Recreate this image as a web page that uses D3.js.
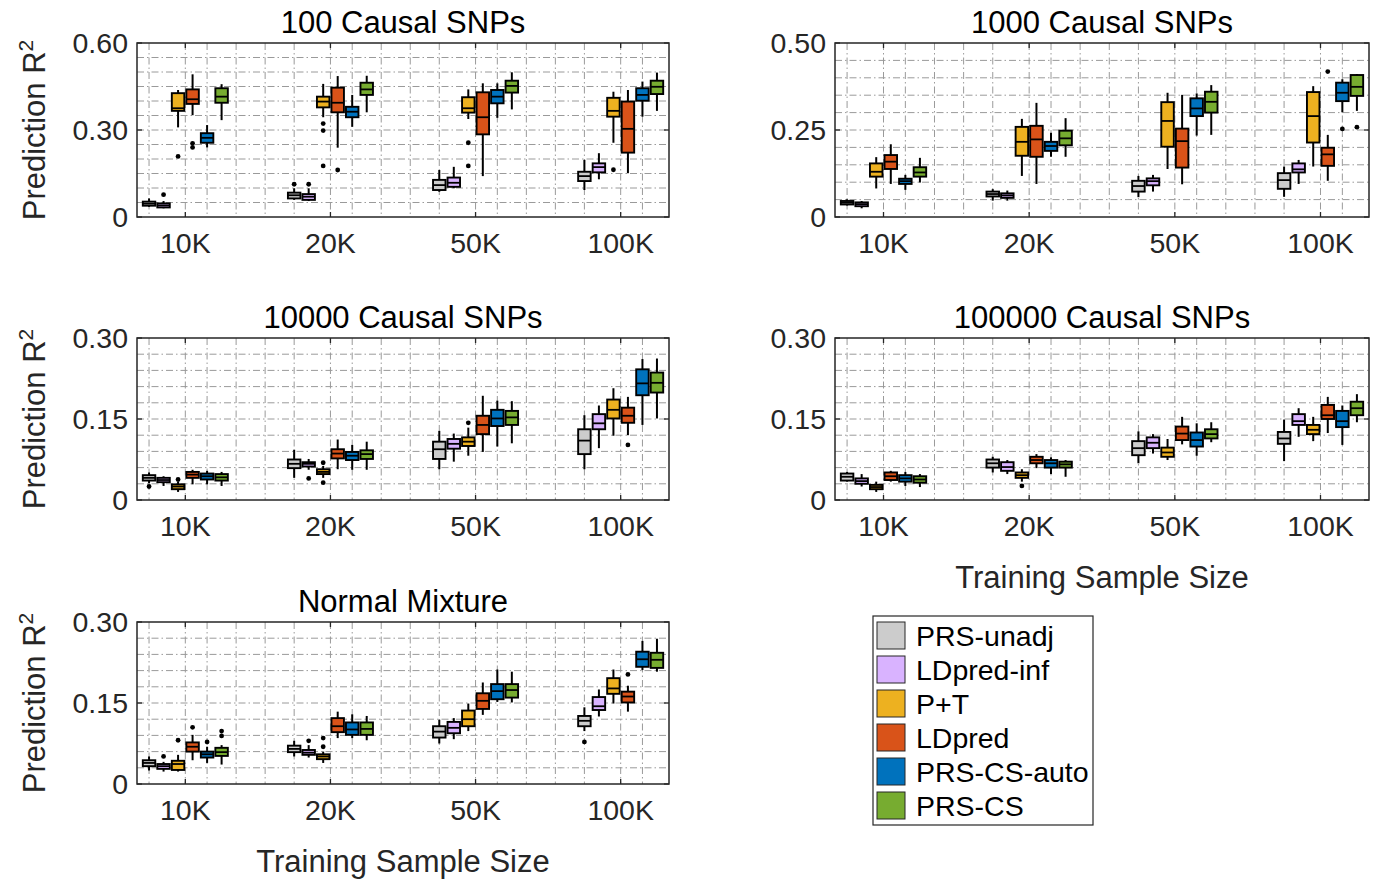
<!DOCTYPE html>
<html lang="en">
<head>
<meta charset="UTF-8">
<title>Prediction R2 boxplots</title>
<script src="https://cdnjs.cloudflare.com/ajax/libs/d3/7.8.5/d3.min.js"></script>
<style>
  body { margin: 0; background: #fff; }
  svg { display: block; font-family: "Liberation Sans", Arial, sans-serif; }
  .grid line { stroke: #9a9a9a; stroke-width: 1; stroke-dasharray: 7,3,1.5,3; }
  .frame { fill: none; stroke: #262626; stroke-width: 1.5; }
  .tick-label { fill: #262626; font-size: 28.5px; }
  .title { fill: #000; font-size: 31px; }
  .axis-label { fill: #262626; font-size: 31px; }
</style>
</head>
<body>
<div id="chart"></div>
<script>
const methods = ["PRS-unadj", "LDpred-inf", "P+T", "LDpred", "PRS-CS-auto", "PRS-CS"];
const colors = ["#cccccc", "#d9b3ff", "#edb120", "#d95319", "#0072bd", "#77ac30"];
const sizes = ["10K", "20K", "50K", "100K"];

// each box: [whisker low, q1, median, q3, whisker high], 10K..100K x methods
const causal100 = [
  [0.035,0.039,0.046,0.053,0.064],[0.030,0.033,0.040,0.047,0.055],[0.309,0.366,0.375,0.427,0.438],
  [0.351,0.390,0.406,0.440,0.492],[0.240,0.256,0.273,0.289,0.317],[0.334,0.394,0.415,0.444,0.458],
  [0.059,0.064,0.075,0.084,0.099],[0.055,0.059,0.070,0.079,0.099],[0.344,0.378,0.398,0.415,0.459],
  [0.239,0.361,0.394,0.446,0.486],[0.311,0.344,0.363,0.380,0.421],[0.361,0.421,0.440,0.463,0.487],
  [0.087,0.093,0.110,0.128,0.162],[0.099,0.104,0.118,0.136,0.173],[0.338,0.360,0.375,0.413,0.440],
  [0.141,0.285,0.344,0.430,0.461],[0.342,0.392,0.415,0.438,0.461],[0.371,0.429,0.452,0.470,0.499],
  [0.093,0.124,0.141,0.156,0.197],[0.130,0.154,0.172,0.185,0.220],[0.256,0.346,0.366,0.411,0.432],
  [0.151,0.222,0.304,0.398,0.438],[0.346,0.401,0.421,0.444,0.467],[0.366,0.424,0.449,0.470,0.498]
];
const causal100Out = [[0,1,0.077],[0,2,0.209],[0,3,0.254],[0,3,0.240],[1,0,0.113],[1,1,0.113],
  [1,2,0.322],[1,2,0.298],[1,2,0.176],[1,3,0.162],[2,2,0.256],[2,2,0.176],[3,2,0.163]];

const causal1000 = [
  [0.033,0.036,0.041,0.046,0.051],[0.025,0.031,0.037,0.042,0.046],[0.082,0.116,0.130,0.154,0.172],
  [0.095,0.138,0.159,0.178,0.209],[0.078,0.095,0.103,0.110,0.121],[0.099,0.116,0.128,0.143,0.170],
  [0.047,0.059,0.066,0.073,0.080],[0.047,0.055,0.062,0.068,0.076],[0.118,0.176,0.216,0.259,0.282],
  [0.095,0.173,0.223,0.262,0.328],[0.173,0.190,0.204,0.216,0.242],[0.173,0.206,0.226,0.248,0.284],
  [0.057,0.073,0.089,0.104,0.118],[0.073,0.091,0.103,0.111,0.121],[0.138,0.202,0.276,0.330,0.357],
  [0.094,0.142,0.218,0.254,0.351],[0.234,0.290,0.312,0.341,0.355],[0.236,0.300,0.331,0.360,0.379],
  [0.058,0.081,0.106,0.126,0.145],[0.095,0.128,0.137,0.154,0.164],[0.145,0.214,0.290,0.359,0.376],
  [0.104,0.147,0.180,0.199,0.236],[0.301,0.333,0.357,0.386,0.396],[0.305,0.348,0.374,0.408,0.411]
];
const causal1000Out = [[3,3,0.418],[3,4,0.253],[3,5,0.258]];

const causal10000 = [
  [0.031,0.036,0.041,0.046,0.051],[0.026,0.033,0.037,0.041,0.044],[0.015,0.020,0.025,0.029,0.034],
  [0.029,0.041,0.047,0.052,0.056],[0.029,0.038,0.044,0.049,0.054],[0.026,0.036,0.042,0.048,0.052],
  [0.041,0.059,0.067,0.075,0.093],[0.056,0.062,0.067,0.070,0.076],[0.041,0.048,0.052,0.057,0.063],
  [0.057,0.077,0.086,0.094,0.112],[0.056,0.074,0.082,0.089,0.102],[0.056,0.076,0.085,0.092,0.108],
  [0.057,0.076,0.094,0.108,0.128],[0.071,0.095,0.104,0.113,0.123],[0.082,0.100,0.108,0.116,0.134],
  [0.089,0.122,0.139,0.156,0.193],[0.099,0.137,0.151,0.167,0.184],[0.105,0.139,0.153,0.165,0.183],
  [0.057,0.085,0.110,0.131,0.157],[0.096,0.131,0.142,0.159,0.175],[0.119,0.151,0.167,0.186,0.207],
  [0.120,0.143,0.156,0.171,0.191],[0.139,0.194,0.216,0.242,0.261],[0.151,0.199,0.217,0.236,0.262]
];
const causal10000Out = [[0,0,0.025],[0,2,0.038],[1,1,0.040],[1,2,0.069],[1,2,0.032],[2,2,0.143],[3,3,0.102]];

const causal100000 = [
  [0.034,0.036,0.043,0.049,0.052],[0.025,0.030,0.035,0.040,0.048],[0.015,0.020,0.024,0.028,0.034],
  [0.034,0.037,0.044,0.051,0.054],[0.026,0.034,0.040,0.046,0.052],[0.024,0.032,0.038,0.044,0.048],
  [0.051,0.060,0.068,0.075,0.080],[0.048,0.054,0.061,0.070,0.074],[0.034,0.041,0.046,0.051,0.057],
  [0.059,0.068,0.074,0.080,0.085],[0.048,0.060,0.068,0.074,0.079],[0.043,0.060,0.066,0.071,0.074],
  [0.068,0.083,0.096,0.109,0.127],[0.086,0.096,0.106,0.116,0.122],[0.074,0.080,0.088,0.097,0.113],
  [0.103,0.111,0.123,0.136,0.154],[0.082,0.099,0.111,0.125,0.142],[0.107,0.114,0.122,0.131,0.144],
  [0.072,0.104,0.114,0.126,0.149],[0.117,0.139,0.146,0.159,0.170],[0.109,0.122,0.130,0.139,0.154],
  [0.124,0.150,0.157,0.176,0.191],[0.102,0.135,0.146,0.165,0.175],[0.144,0.157,0.170,0.182,0.196]
];
const causal100000Out = [[1,2,0.026]];

const normalMix = [
  [0.025,0.033,0.039,0.044,0.051],[0.023,0.028,0.033,0.037,0.041],[0.023,0.026,0.037,0.043,0.054],
  [0.044,0.060,0.069,0.077,0.091],[0.039,0.049,0.055,0.060,0.069],[0.036,0.052,0.059,0.067,0.072],
  [0.051,0.059,0.065,0.071,0.080],[0.049,0.054,0.058,0.063,0.072],[0.039,0.046,0.051,0.055,0.060],
  [0.085,0.096,0.107,0.122,0.134],[0.085,0.091,0.101,0.114,0.129],[0.081,0.091,0.102,0.114,0.126],
  [0.075,0.086,0.097,0.107,0.119],[0.083,0.094,0.104,0.115,0.122],[0.098,0.107,0.120,0.136,0.149],
  [0.128,0.139,0.154,0.168,0.188],[0.152,0.157,0.172,0.185,0.212],[0.151,0.160,0.174,0.185,0.208],
  [0.098,0.107,0.117,0.126,0.142],[0.125,0.137,0.144,0.161,0.175],[0.149,0.167,0.177,0.196,0.212],
  [0.134,0.151,0.162,0.171,0.182],[0.211,0.217,0.231,0.245,0.265],[0.208,0.215,0.230,0.243,0.269]
];
const normalMixOut = [[0,1,0.051],[0,2,0.081],[0,3,0.105],[0,4,0.078],[0,5,0.098],[0,5,0.089],
  [1,1,0.080],[1,2,0.085],[1,2,0.069],[3,0,0.078],[3,3,0.203]];

const titles = ["100 Causal SNPs", "1000 Causal SNPs", "10000 Causal SNPs", "100000 Causal SNPs", "Normal Mixture"];
const yMaxes = [0.60, 0.50, 0.30, 0.30, 0.30];
const yMinorSteps = [0.05, 0.05, 0.03, 0.03, 0.03];

const panels = [
  { title: titles[0], boxes: causal100, outliers: causal100Out, ymax: yMaxes[0], step: yMinorSteps[0],
    x0: 137, x1: 669, y0: 43, y1: 217, ylabel: true, xlabel: false },
  { title: titles[1], boxes: causal1000, outliers: causal1000Out, ymax: yMaxes[1], step: yMinorSteps[1],
    x0: 835, x1: 1369, y0: 43, y1: 217, ylabel: false, xlabel: false },
  { title: titles[2], boxes: causal10000, outliers: causal10000Out, ymax: yMaxes[2], step: yMinorSteps[2],
    x0: 137, x1: 669, y0: 338, y1: 500, ylabel: true, xlabel: false },
  { title: titles[3], boxes: causal100000, outliers: causal100000Out, ymax: yMaxes[3], step: yMinorSteps[3],
    x0: 835, x1: 1369, y0: 338, y1: 500, ylabel: false, xlabel: true },
  { title: titles[4], boxes: normalMix, outliers: normalMixOut, ymax: yMaxes[4], step: yMinorSteps[4],
    x0: 137, x1: 669, y0: 622, y1: 784, ylabel: true, xlabel: true }
];

const W = 1379, H = 881;
const svg = d3.select("#chart").append("svg").attr("width", W).attr("height", H);
svg.append("rect").attr("width", W).attr("height", H).attr("fill", "#fff");

// box position in units: group g, method m -> g*10 + m + 1
const pos = (g, m) => g * 10 + m + 1;
const groupCenters = sizes.map((s, g) => g * 10 + 3.5);
const minorX = d3.range(1, 37, 2).filter(u => !groupCenters.some(c => Math.abs(c - u) < 1));
const boxW = 0.86;

panels.forEach(p => {
  const x = d3.scaleLinear().domain([0.17, 36.83]).range([p.x0, p.x1]);
  const y = d3.scaleLinear().domain([0, p.ymax]).range([p.y1, p.y0]);
  const g = svg.append("g");

  // grid
  const grid = g.append("g").attr("class", "grid");
  const nH = Math.round(p.ymax / p.step);
  grid.selectAll(".h").data(d3.range(1, nH)).enter().append("line")
    .attr("x1", p.x0).attr("x2", p.x1)
    .attr("y1", i => y(i * p.step)).attr("y2", i => y(i * p.step));
  grid.selectAll(".v").data(minorX.concat(groupCenters)).enter().append("line")
    .attr("y1", p.y0).attr("y2", p.y1)
    .attr("x1", d => x(d)).attr("x2", d => x(d));

  // boxes
  const items = p.boxes.map((b, i) => ({ b, g: Math.floor(i / 6), m: i % 6 }));
  const bw = x(boxW) - x(0);
  const bg = g.selectAll(".box").data(items).enter().append("g");
  bg.append("line")
    .attr("x1", d => x(pos(d.g, d.m))).attr("x2", d => x(pos(d.g, d.m)))
    .attr("y1", d => y(d.b[0])).attr("y2", d => y(d.b[4]))
    .attr("stroke", "#000").attr("stroke-width", 2);
  bg.append("rect")
    .attr("x", d => x(pos(d.g, d.m)) - bw / 2).attr("width", bw)
    .attr("y", d => y(d.b[3])).attr("height", d => y(d.b[1]) - y(d.b[3]))
    .attr("fill", d => colors[d.m]).attr("stroke", "#000").attr("stroke-width", 1.9);
  bg.append("line")
    .attr("x1", d => x(pos(d.g, d.m)) - bw / 2).attr("x2", d => x(pos(d.g, d.m)) + bw / 2)
    .attr("y1", d => y(d.b[2])).attr("y2", d => y(d.b[2]))
    .attr("stroke", "#000").attr("stroke-width", 1.8);

  g.selectAll(".out").data(p.outliers).enter().append("circle")
    .attr("cx", d => x(pos(d[0], d[1]))).attr("cy", d => y(d[2]))
    .attr("r", 2.4).attr("fill", "#000");

  // frame and ticks
  g.append("rect").attr("class", "frame")
    .attr("x", p.x0).attr("y", p.y0).attr("width", p.x1 - p.x0).attr("height", p.y1 - p.y0);
  const yTicks = [0, p.ymax / 2, p.ymax];
  yTicks.forEach(t => {
    g.append("line").attr("x1", p.x0).attr("x2", p.x0 + 5).attr("y1", y(t)).attr("y2", y(t))
      .attr("stroke", "#262626").attr("stroke-width", 1.3);
    g.append("line").attr("x1", p.x1).attr("x2", p.x1 - 5).attr("y1", y(t)).attr("y2", y(t))
      .attr("stroke", "#262626").attr("stroke-width", 1.3);
    g.append("text").attr("class", "tick-label")
      .attr("x", p.x0 - 9).attr("y", y(t)).attr("dy", "0.36em").attr("text-anchor", "end")
      .text(t === 0 ? "0" : t.toFixed(2));
  });
  groupCenters.forEach((c, i) => {
    g.append("line").attr("x1", x(c)).attr("x2", x(c)).attr("y1", p.y1).attr("y2", p.y1 - 5)
      .attr("stroke", "#262626").attr("stroke-width", 1.3);
    g.append("line").attr("x1", x(c)).attr("x2", x(c)).attr("y1", p.y0).attr("y2", p.y0 + 5)
      .attr("stroke", "#262626").attr("stroke-width", 1.3);
    g.append("text").attr("class", "tick-label")
      .attr("x", x(c)).attr("y", p.y1 + 36).attr("text-anchor", "middle")
      .text(sizes[i]);
  });

  g.append("text").attr("class", "title")
    .attr("x", (p.x0 + p.x1) / 2).attr("y", p.y0 - 10).attr("text-anchor", "middle")
    .text(p.title);

  if (p.ylabel) {
    const t = g.append("text").attr("class", "axis-label")
      .attr("transform", `translate(45,${(p.y0 + p.y1) / 2}) rotate(-90)`)
      .attr("text-anchor", "middle");
    t.append("tspan").text("Prediction R");
    t.append("tspan").attr("font-size", "21px").attr("dy", "-12").text("2");
  }
  if (p.xlabel) {
    g.append("text").attr("class", "axis-label")
      .attr("x", (p.x0 + p.x1) / 2).attr("y", p.y1 + 88).attr("text-anchor", "middle")
      .text("Training Sample Size");
  }
});

// legend
const leg = svg.append("g").attr("transform", "translate(873,616)");
leg.append("rect").attr("width", 220).attr("height", 209)
  .attr("fill", "#fff").attr("stroke", "#262626").attr("stroke-width", 1.2);
const li = leg.selectAll(".item").data(methods).enter().append("g")
  .attr("transform", (d, i) => `translate(4,${6 + i * 34})`);
li.append("rect").attr("width", 28).attr("height", 27)
  .attr("fill", (d, i) => colors[i]).attr("stroke", "#262626").attr("stroke-width", 1);
li.append("text").attr("x", 39).attr("y", 14).attr("dy", "0.36em")
  .attr("font-size", "28.5px").attr("fill", "#000").text(d => d);
</script>
</body>
</html>
